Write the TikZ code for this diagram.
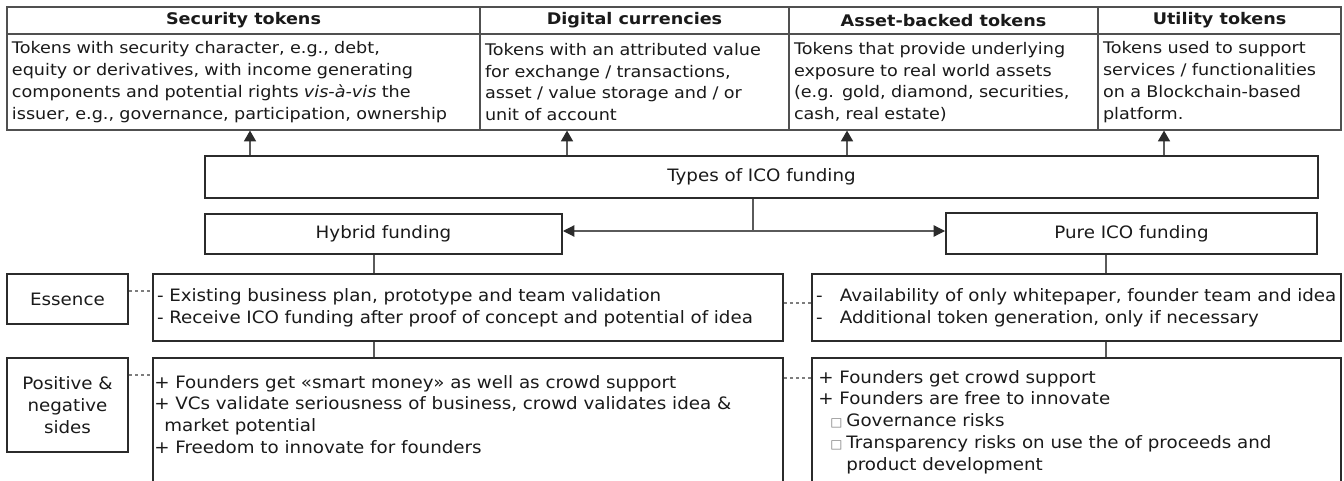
\documentclass[tikz,border=0pt]{standalone}
\usepackage{fontspec}
\usetikzlibrary{arrows.meta}
\setmainfont{DejaVu Sans}
\newfontfamily\tabfont[FakeStretch=1.1]{DejaVu Sans}
\newfontfamily\boxfont[FakeStretch=1.07]{DejaVu Sans}
\definecolor{rahmen}{RGB}{43,43,43}
\definecolor{linie}{RGB}{90,90,90}
\definecolor{tabelle}{RGB}{80,80,80}
\definecolor{strich}{RGB}{125,125,125}
\definecolor{schrift}{RGB}{26,26,26}
\newcommand{\pxu}{0.75pt}
\newcommand{\leer}{{\color{strich}\fontsize{9}{9}\selectfont □}}

\begin{document}
\begin{tikzpicture}[x=0.75pt,y=-0.75pt,
	cell/.style={draw=tabelle, line width=0.9pt, inner sep=0pt, text=schrift},
	head/.style={cell, font=\tabfont\bfseries\fontsize{12}{16.3}\selectfont, minimum height=27*\pxu},
	body/.style={cell, font=\tabfont\fontsize{12}{16.3}\selectfont, align=left, inner xsep=5*\pxu, minimum height=96*\pxu},
	box/.style={draw=rahmen, line width=1.5pt, inner sep=0pt, text=schrift, font=\boxfont\fontsize{12.8}{16.3}\selectfont},
	txt/.style={inner sep=0pt, align=left, text=schrift, font=\boxfont\fontsize{12.8}{16.3}\selectfont},
	conn/.style={draw=linie, line width=0.9pt},
	arr/.style={conn, -{Triangle[length=8pt,width=9pt,color=rahmen]}},
	arrboth/.style={conn, {Triangle[length=8.5pt,width=8.5pt,color=rahmen]}-{Triangle[length=8.5pt,width=8.5pt,color=rahmen]}},
	dashlink/.style={draw=strich, line width=0.8pt, dash pattern=on 2.5pt off 2pt}]
	\useasboundingbox[fill=white] (0,0) rectangle (1344,481);
	\clip (0,0) rectangle (1344,481);
	% token table
	\node[head, minimum width=473*\pxu] (SecH) at (243.5,20.5) {Security tokens};
	\node[head, minimum width=309*\pxu] (DigH) at (634.5,20.5) {Digital currencies};
	\node[head, minimum width=309*\pxu] (AssH) at (943.5,20.5) {Asset-backed tokens};
	\node[head, minimum width=243*\pxu] (UtiH) at (1219.5,20.5) {Utility tokens};
	\node[body, minimum width=473*\pxu, text width=463*\pxu] (SecB) at (243.5,82) {Tokens with security character, e.g., debt,\\equity or derivatives, with income generating\\components and potential rights \textit{vis-à-vis} the\\issuer, e.g., governance, participation, ownership};
	\node[body, minimum width=309*\pxu, text width=299*\pxu] (DigB) at (634.5,82) {Tokens with an attributed value\\for exchange / transactions,\\asset / value storage and / or\\unit of account};
	\node[body, minimum width=309*\pxu, text width=299*\pxu] (AssB) at (943.5,82) {Tokens that provide underlying\\exposure to real world assets\\(e.g. gold, diamond, securities,\\cash, real estate)};
	\node[body, minimum width=243*\pxu, text width=233*\pxu] (UtiB) at (1219.5,82) {Tokens used to support\\services / functionalities\\on a Blockchain-based\\platform.};
	% funding types
	\node[box, minimum width=1113*\pxu, minimum height=42*\pxu] (Types) at (761.5,177) {Types of ICO funding};
	\node[box, minimum width=357*\pxu, minimum height=40*\pxu] (Hybrid) at (383.5,234) {Hybrid funding};
	\node[box, minimum width=371*\pxu, minimum height=41*\pxu] (Pure) at (1131.5,233.5) {Pure ICO funding};
	\draw[arr] (Types.north -| 250,0) -- (SecB.south -| 250,0);
	\draw[arr] (Types.north -| 567,0) -- (DigB.south -| 567,0);
	\draw[arr] (Types.north -| 847,0) -- (AssB.south -| 847,0);
	\draw[arr] (Types.north -| 1164,0) -- (UtiB.south -| 1164,0);
	\coordinate (Split) at (753,231);
	\draw[conn] (Types.south -| Split) -- (Split);
	\draw[arrboth] (Hybrid.east |- Split) -- (Pure.west |- Split);
	% essence row
	\node[box, align=center, minimum width=121*\pxu, minimum height=50*\pxu] (Essence) at (67.5,299) {Essence};
	\node[box, align=left, minimum width=630*\pxu, minimum height=67*\pxu, text width=622*\pxu, inner xsep=4*\pxu] (HybEss) at (468,307.5) {- Existing business plan, prototype and team validation\\- Receive ICO funding after proof of concept and potential of idea};
	\node[box, align=left, minimum width=529*\pxu, minimum height=67*\pxu, text width=521*\pxu, inner xsep=4*\pxu] (PureEss) at (1076.5,307.5) {-\hspace{13pt}Availability of only whitepaper, founder team and idea\\-\hspace{13pt}Additional token generation, only if necessary};
	% positive and negative sides
	\node[box, align=center, minimum width=121*\pxu, minimum height=94*\pxu] (PosNeg) at (67.5,405) {Positive \&\\negative\\sides};
	\node[box, minimum width=630*\pxu, minimum height=250*\pxu] (HybPos) at (468,483) {};
	\node[box, minimum width=529*\pxu, minimum height=250*\pxu] (PurePos) at (1076.5,483) {};
	\node[txt, anchor=north west] (HybPosT) at ([xshift=2*\pxu,yshift=-18*\pxu]HybPos.north west) {+ Founders get «smart money» as well as crowd support\\+ VCs validate seriousness of business, crowd validates idea \&\\\hspace*{7.5pt}market potential\\+ Freedom to innovate for founders};
	\node[txt, anchor=north west] (PurePosT) at ([xshift=7*\pxu,yshift=-13*\pxu]PurePos.north west) {+ Founders get crowd support\\+ Founders are free to innovate\\\hspace*{9pt}\leer\hspace{3pt}Governance risks\\\hspace*{9pt}\leer\hspace{3pt}Transparency risks on use the of proceeds and\\\hspace*{21pt}product development};
	\draw[conn] (Hybrid.south -| 374,0) -- (HybEss.north -| 374,0);
	\draw[conn] (HybEss.south -| 374,0) -- (HybPos.north -| 374,0);
	\draw[conn] (Pure.south -| 1106,0) -- (PureEss.north -| 1106,0);
	\draw[conn] (PureEss.south -| 1106,0) -- (PurePos.north -| 1106,0);
	\draw[dashlink] (Essence.east |- 0,291) -- (HybEss.west |- 0,291);
	\draw[dashlink] (HybEss.east |- 0,303) -- (PureEss.west |- 0,303);
	\draw[dashlink] (PosNeg.east |- 0,375) -- (HybPos.west |- 0,375);
	\draw[dashlink] (HybPos.east |- 0,378) -- (PurePos.west |- 0,378);
\end{tikzpicture}
\end{document}
